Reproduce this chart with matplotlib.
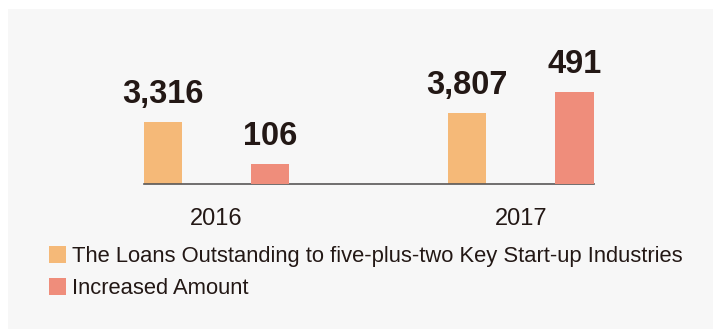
import matplotlib
matplotlib.use('Agg')
import matplotlib.pyplot as plt
from matplotlib.patches import Rectangle, Patch
import numpy as np

plt.rcParams['font.family'] = ['Liberation Sans', 'DejaVu Sans']

years = ['2016', '2017']
loans = [3316, 3807]          # loans outstanding
increase = [106, 491]         # increased amount
series_names = ['The Loans Outstanding to five-plus-two Key Start-up Industries',
                'Increased Amount']

c_loans = '#f5b978'
c_inc = '#ef8d7b'
c_text = '#231815'

W, H = 713, 329
fig = plt.figure(figsize=(W / 100, H / 100), dpi=100, facecolor='white')

# grey panel behind everything
fig.patches.append(Rectangle((8 / W, 0), 1, (H - 8) / H - 0.003, transform=fig.transFigure,
                             facecolor='#f7f7f7', edgecolor='none', zorder=-5))

ax = fig.add_axes([0, 145 / H, 1, 170 / H])
ax.patch.set_visible(False)
ax2 = ax.twinx()

x = np.arange(len(years))
off = 0.176
w = 0.125

ax.set_xlim(-0.711, 1.631)
ax.set_ylim(0, 9100)
ax2.set_ylim(0, 910)

b1 = ax.bar(x - off, loans, w, color=c_loans, zorder=2)
b2 = ax2.bar(x + off, increase, w, color=c_inc, zorder=2)

for bars, vals, a in [(b1, loans, ax), (b2, increase, ax2)]:
    for r, v in zip(bars, vals):
        a.annotate(f'{v:,}', (r.get_x() + r.get_width() / 2, v), xytext=(0, 8.5),
                   textcoords='offset points', ha='center', va='bottom',
                   fontsize=23.5, fontweight='bold', color=c_text)

ax.plot([x[0] - off - w / 2, x[-1] + off + w / 2], [0, 0], color='#595757', lw=1.2,
        zorder=3, clip_on=False)

ax.set_xticks(x)
ax.set_xticklabels(years, fontsize=17, color=c_text)
ax.tick_params(axis='x', length=0, pad=17)
for a in (ax, ax2):
    a.set_yticks([])
    for s in a.spines.values():
        s.set_visible(False)

handles = [Patch(facecolor=c_loans), Patch(facecolor=c_inc)]
leg = fig.legend(handles, series_names, loc='upper left', bbox_to_anchor=(49 / W, 1 - 246 / H),
                 frameon=False, fontsize=15.8, handlelength=0.78, handleheight=0.78,
                 handletextpad=0.25, labelspacing=0.5, borderpad=0, borderaxespad=0)
for t in leg.get_texts():
    t.set_color(c_text)

fig.savefig('out.png', dpi=100, facecolor='white')
